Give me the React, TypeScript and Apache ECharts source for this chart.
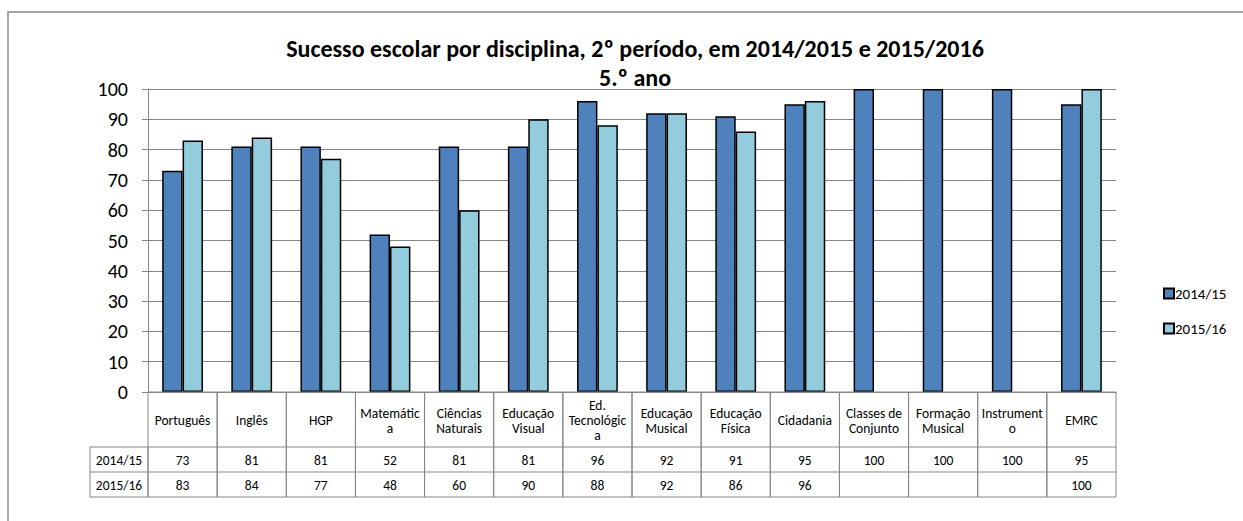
import React, { useEffect, useRef } from "react";
import * as echarts from "echarts";

const categories = [
  "Português",
  "Inglês",
  "HGP",
  "Matemátic\na",
  "Ciências\nNaturais",
  "Educação\nVisual",
  "Ed.\nTecnológic\na",
  "Educação\nMusical",
  "Educação\nFísica",
  "Cidadania",
  "Classes de\nConjunto",
  "Formação\nMusical",
  "Instrument\no",
  "EMRC",
];
const series2014 = [73, 81, 81, 52, 81, 81, 96, 92, 91, 95, 100, 100, 100, 95];
const series2015: (number | null)[] = [83, 84, 77, 48, 60, 90, 88, 92, 86, 96, null, null, null, 100];
const seriesNames = ["2014/15", "2015/16"];
const titleLines = ["Sucesso escolar por disciplina, 2º período, em 2014/2015 e 2015/2016", "5.º ano"];

const FONT = "Carlito, Calibri, Lato, sans-serif";
const GRID_COLOR = "#868686";
const C1 = "#4F81BD";
const C2 = "#93CDDD";

export default function App() {
  const ref = useRef<HTMLDivElement>(null);
  useEffect(() => {
    if (!ref.current) return;
    const chart = echarts.init(ref.current, undefined, { renderer: "svg" });
    const HEAD_H = 55;
    const ROW_H = 25;
    const LABEL_W = 58;
    const TFS = 13.5;
    const rows = [series2014, series2015];

    const renderTable = (params: any, api: any) => {
      const idx = api.value(0);
      const [cx, y0] = api.coord([idx, 0]);
      const w = api.size([1, 0])[0];
      const x0 = cx - w / 2;
      const lineStyle = { stroke: GRID_COLOR, lineWidth: 1, fill: "none" };
      const children: any[] = [];
      children.push({ type: "rect", shape: { x: x0, y: y0, width: w, height: HEAD_H + 2 * ROW_H }, style: lineStyle });
      children.push({ type: "line", shape: { x1: x0, y1: y0 + HEAD_H, x2: x0 + w, y2: y0 + HEAD_H }, style: lineStyle });
      children.push({ type: "line", shape: { x1: x0, y1: y0 + HEAD_H + ROW_H, x2: x0 + w, y2: y0 + HEAD_H + ROW_H }, style: lineStyle });
      children.push({
        type: "text",
        style: {
          text: categories[idx],
          x: cx,
          y: y0 + HEAD_H / 2 + 1,
          align: "center",
          verticalAlign: "middle",
          fontSize: TFS,
          lineHeight: 15,
          fontFamily: FONT,
          fill: "#000",
        },
      });
      rows.forEach((r, ri) => {
        const v = r[idx];
        if (v == null) return;
        children.push({
          type: "text",
          style: {
            text: String(v),
            x: cx,
            y: y0 + HEAD_H + ROW_H * ri + ROW_H / 2 + 1,
            align: "center",
            verticalAlign: "middle",
            fontSize: TFS,
            fontFamily: FONT,
            fill: "#000",
          },
        });
      });
      if (idx === 0) {
        children.push({ type: "rect", shape: { x: x0 - LABEL_W, y: y0 + HEAD_H, width: LABEL_W, height: 2 * ROW_H }, style: lineStyle });
        children.push({ type: "line", shape: { x1: x0 - LABEL_W, y1: y0 + HEAD_H + ROW_H, x2: x0, y2: y0 + HEAD_H + ROW_H }, style: lineStyle });
        seriesNames.forEach((n, ri) => {
          children.push({
            type: "text",
            style: {
              text: n,
              x: x0 - LABEL_W / 2,
              y: y0 + HEAD_H + ROW_H * ri + ROW_H / 2 + 1,
              align: "center",
              verticalAlign: "middle",
              fontSize: TFS,
              fontFamily: FONT,
              fill: "#000",
            },
          });
        });
      }
      return { type: "group", children };
    };

    chart.setOption({
      animation: false,
      backgroundColor: "#fff",
      textStyle: { fontFamily: FONT },
      title: {
        text: titleLines.join("\n"),
        left: 630,
        top: 29,
        textAlign: "center",
        textStyle: { fontSize: 24, fontWeight: "bold", color: "#000", lineHeight: 29, fontFamily: FONT },
      },
      graphic: [
        {
          type: "rect",
          shape: { x: 8, y: 12, width: 1400, height: 700 },
          style: { fill: "none", stroke: "#8a8a8a", lineWidth: 1.5 },
          silent: true,
          z: 100,
        },
      ],
      legend: {
        data: seriesNames,
        orient: "vertical",
        left: 1158,
        top: 281,
        itemWidth: 10,
        itemHeight: 10,
        itemGap: 20,
        icon: "rect",
        textStyle: { fontSize: 15, color: "#000", fontFamily: FONT, padding: [0, 0, 0, -4] },
        selectedMode: false,
      },
      grid: { left: 148, right: 127, top: 89, bottom: 129, containLabel: false },
      xAxis: {
        type: "category",
        data: categories,
        axisLine: { show: true, lineStyle: { color: GRID_COLOR, width: 1 } },
        axisTick: { show: false },
        axisLabel: { show: false },
      },
      yAxis: {
        type: "value",
        min: 0,
        max: 100,
        interval: 10,
        axisLine: { show: true, lineStyle: { color: GRID_COLOR, width: 1 } },
        axisTick: { show: true, length: 6, lineStyle: { color: GRID_COLOR } },
        axisLabel: { fontSize: 20, color: "#000", margin: 20, fontFamily: FONT },
        splitLine: { show: true, lineStyle: { color: GRID_COLOR, width: 1 } },
      },
      series: [
        {
          name: seriesNames[0],
          type: "bar",
          data: series2014,
          barGap: "0%",
          barCategoryGap: "41%",
          itemStyle: { color: C1, borderColor: "#000", borderWidth: 1.5 },
        },
        {
          name: seriesNames[1],
          type: "bar",
          data: series2015,
          itemStyle: { color: C2, borderColor: "#000", borderWidth: 1.5 },
        },
        {
          type: "custom",
          name: "table",
          silent: true,
          clip: false,
          renderItem: renderTable,
          data: categories.map((_, i) => [i, 0]),
          encode: { x: 0, y: 1 },
          z: 5,
        },
      ],
    });
    return () => chart.dispose();
  }, []);
  return <div ref={ref} style={{ position: "fixed", left: 0, top: 0, width: 1243, height: 521 }} />;
}
